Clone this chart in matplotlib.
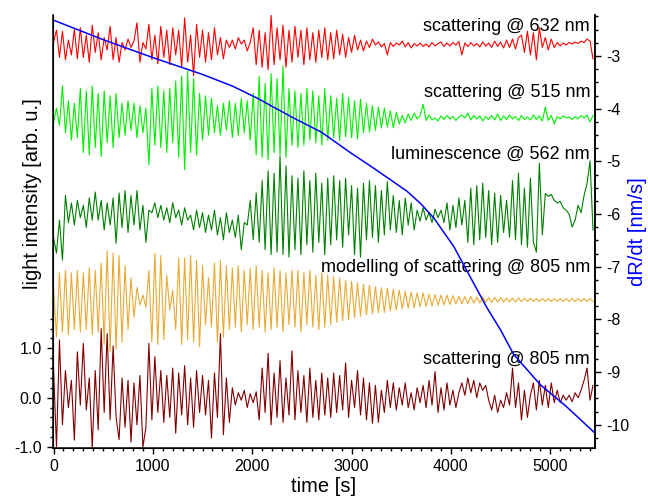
import numpy as np
import matplotlib.pyplot as plt
from matplotlib.ticker import MultipleLocator, FixedLocator, FormatStrFormatter

plt.rcParams['font.family'] = ['Liberation Sans', 'DejaVu Sans']
plt.rcParams['axes.unicode_minus'] = False

step = 30  # s between samples

# deviations of each trace around its own baseline (arb. u.)
sc632 = [0.05, 0.30, -0.25, 0.28, -0.30, 0.10, -0.20, 0.32, -0.28,
         0.35, -0.25, 0.20, -0.35, 0.40, -0.15, 0.25, -0.30, 0.15,
         -0.10, 0.38, -0.30, 0.15, -0.35,
         0.05, -0.10, 0.12, -0.05, 0.08,
         0.45, -0.35, 0.05, -0.08,
         0.42, -0.30, 0.20, -0.38, 0.38, -0.25, 0.30, -0.40, 0.35, -0.20, 0.30, -0.45, 0.55, -0.35, 0.20, -0.62,
         0.42, -0.25, 0.30, -0.35, 0.25, -0.30, 0.35, -0.20, 0.15, -0.28, 0.10,
         -0.05, 0.10, -0.08, 0.15, 0.02, 0.10, -0.12, 0.05,
         0.35, -0.40, 0.30, -0.45, 0.25, -0.50, 0.60, -0.40, 0.35, -0.30, 0.40, -0.45,
         0.30, -0.35, 0.38, -0.25, 0.30, -0.40, 0.35, -0.30, 0.25, -0.35, 0.30, -0.25,
         0.35, -0.30, 0.25, -0.28, 0.30, -0.20, 0.22, -0.25, 0.15, -0.15, 0.20, -0.10, 0.10, -0.12, 0.08,
         -0.05, 0.12, 0.00, 0.06, -0.04, 0.03, -0.20, 0.05, -0.03, 0.04, 0.00, 0.08, -0.04, 0.05, -0.06,
         0.03, -0.02, 0.04, -0.03, 0.02, -0.04, 0.05, -0.02, 0.03, 0.06, -0.03, 0.04, -0.02, 0.05, 0.00,
         0.07, -0.20, 0.04, -0.03, 0.05, -0.02, 0.03, -0.04, 0.06, -0.02, 0.04, -0.05, 0.08, -0.03, 0.06,
         -0.06, 0.10, -0.05, 0.12, -0.08, 0.15,
         0.20, -0.15, 0.28, -0.20, 0.25, -0.30, 0.35, -0.05, 0.15, -0.10, 0.12, -0.05,
         0.05, -0.02, 0.04, 0.00, 0.05, 0.02, 0.06, 0.03, 0.08, 0.05, 0.12, 0.08, -0.28]

sc515 = [-0.10, 0.20, -0.15, 0.65,
         -0.30, 0.35, -0.45, 0.30, -0.40,
         0.60, -0.70, 0.55, -0.75, 0.65, -0.60, 0.50, -0.78,
         0.55, -0.50, 0.45, -0.60, 0.50, -0.40,
         0.30, -0.35, 0.35, -0.25, 0.30, -0.40, 0.25, -0.30, 0.20,
         -0.95,
         0.60, -0.55, 0.65, -0.60, 0.55, -0.70, 0.60, -0.50,
         0.75, -0.80, 0.85, -1.05, 0.95, -0.70, 0.80, -0.75, 0.50,
         -0.45, 0.45, -0.35, 0.40, -0.30, 0.25, -0.35, 0.30, -0.25, 0.35, -0.40,
         0.30, -0.35, 0.40, -0.30, 0.35, -0.45, 0.50,
         -0.75, 0.85, -0.80, 0.70, -0.85, 0.90, -0.70, 0.80, -0.75, 1.05, -0.80,
         0.60, -0.55, 0.55, -0.60, 0.50, -0.55, 0.60, -0.45, 0.55, -0.50, 0.45, -0.55, 0.60, -0.45,
         0.45, -0.40, 0.40, -0.45, 0.50, -0.38, 0.42, -0.40, 0.35, -0.42, 0.38,
         -0.30, 0.30, -0.28, 0.25, -0.25, 0.22, -0.20, 0.20, -0.18, 0.15, -0.20, 0.12,
         -0.12, 0.05, -0.10, 0.08, -0.05, 0.10, -0.02, 0.05, 0.28,
         -0.05, 0.06, -0.04, 0.00, -0.06, 0.04, -0.03, 0.05, -0.02, 0.03, -0.05, 0.02, 0.06, 0.00, 0.10,
         -0.04, 0.05, -0.02, 0.04, -0.06, 0.03, -0.03, 0.05, -0.04, 0.08, -0.05, 0.04, -0.03, 0.06, -0.02,
         0.03, -0.05, 0.05, -0.03, 0.02, -0.04, 0.06, -0.03, 0.04, -0.06, 0.22, -0.05, 0.05, -0.12, 0.03,
         -0.02, 0.04, 0.00, 0.02, -0.03, 0.03, -0.02, 0.05, 0.00, 0.06, -0.08, 0.05]

lum562 = [-0.45, -0.77, -0.10, -0.91,
          0.40, -0.15, 0.25, -0.20,
          0.30, -0.05, 0.20, -0.25, 0.35, -0.10,
          0.47,
          -0.10, 0.30, -0.30, 0.25, -0.20, 0.35,
          -0.57,
          0.45, -0.25, 0.50, -0.35, 0.40, -0.20, 0.50, -0.30, 0.20, -0.55,
          0.10, 0.05, 0.25, -0.05, 0.20, -0.10, 0.15, -0.15, 0.25, -0.05, 0.10, -0.20, 0.15, -0.10, 0.00,
          -0.30, 0.10, -0.25, 0.05, -0.35, 0.00, -0.30, 0.10, -0.40, -0.05, -0.50, 0.05, -0.35, -0.10,
          -0.45, 0.00, -0.70, -0.15,
          -0.20, 0.30, -0.50, 0.45, -0.55,
          0.70, -0.70, 0.90, -0.80, 0.85, -0.75, 1.20, -0.80, 1.00, -0.85, 0.80, -0.70,
          0.75, -0.80, 0.90, -0.60, 0.70, -0.75, 0.85, -0.55, 0.65, -0.80, 0.75,
          -0.60, 0.80, -0.50, 0.70, -0.65, 0.75, -0.40, 0.60, -0.80, 0.55,
          -0.85, 0.65, -0.50, 0.70, -0.45, 0.60, -0.55, 0.50, -0.40, 0.68,
          -0.30, 0.40, -0.35, 0.30, -0.40, 0.35, -0.20, 0.25, -0.30,
          0.10, -0.12, 0.15, -0.10, 0.05, -0.15, 0.12, -0.05, 0.10, -0.15,
          0.25, -0.30, 0.20, -0.25, 0.35, -0.20, 0.30,
          -0.55, 0.55, -0.60, 0.60, -0.50, 0.65, -0.45, 0.50, -0.60, 0.45, -0.55, 0.40, -0.35, 0.30, -0.45,
          0.70, -0.50, 0.85, -0.60, 0.55, -0.65, 0.75, -0.55, -0.75, 1.05, -0.40,
          0.44, 0.38, 0.42, 0.30, 0.25, 0.28, 0.15, 0.10, 0.02,
          -0.24, -0.10, 0.20, 0.05, 0.40, 0.64, 1.10, -0.30]

model805 = [0.25, -0.75, 0.55, -0.65, 0.60, -0.70, 0.55, -0.60, 0.60, -0.65, 0.55, -0.60, 0.65, -0.70, 0.60, -0.65, 0.75,
            -0.90, 1.00, -1.05, 0.95, -1.00, 0.90, -0.85,
            0.70, -0.60, 0.45, -0.35, 0.25,
            -0.10, 0.10, -0.15,
            0.60, -0.85, 0.95, -0.90, 0.90, -0.80, 0.50,
            -0.20, 0.20,
            -0.60, 0.85, -0.90, 0.85, -0.80, 0.90, -0.85, 0.80, -0.95, 0.70,
            -0.50, 0.45, -0.55,
            0.75, -0.85, 0.80, -0.75, 0.70,
            -0.60, 0.65, -0.55, 0.70, -0.65, 0.60, -0.50, 0.65, -0.60, 0.70, -0.55, 0.60, -0.65, 0.55, -0.60, 0.65,
            -0.55, 0.60, -0.65, 0.55, -0.50, 0.60, -0.55, 0.60, -0.65, 0.55, -0.50, 0.60, -0.55, 0.50, -0.60,
            0.55, -0.55, 0.50, -0.50, 0.48, -0.45, 0.45, -0.42, 0.40, -0.40, 0.38,
            -0.36, 0.35, -0.33, 0.32, -0.30, 0.30, -0.28, 0.27, -0.26, 0.25, -0.25,
            0.24, -0.22, 0.22, -0.20, 0.20, -0.18, 0.18, -0.17, 0.16, -0.16, 0.15,
            -0.14, 0.14, -0.13, 0.12, -0.12, 0.11, -0.11, 0.10, -0.10, 0.10, -0.09,
            0.09, -0.08, 0.08, -0.08, 0.07, -0.07, 0.07, -0.06, 0.06, -0.06, 0.06,
            -0.05, 0.05, -0.05, 0.05, -0.04, 0.05, -0.04, 0.04, -0.04, 0.04, -0.04, 0.04,
            -0.03, 0.04, -0.03, 0.04, -0.03, 0.03, -0.03, 0.03, -0.03, 0.03, -0.03, 0.03,
            -0.03, 0.03, -0.03, 0.03, -0.03, 0.03, -0.03, 0.03, -0.03, 0.03, -0.03, 0.03, -0.03]

sc805 = [0.63, -1.00, 1.17,
         -0.55, 0.55, -0.20, 0.35, -0.86,
         0.93, -0.15, 1.10, -0.25, 0.40,
         -1.03,
         0.55, -0.65, 1.40, -0.30, 1.30, -0.45,
         1.05, -0.40, -0.85, 0.40, -0.60, 0.35, -0.90, 0.30, -0.55, 0.45, -1.00,
         -0.60, 1.10,
         -0.45, 0.83, -0.30, 0.55, -0.50, 0.45, -0.40, 0.60,
         -0.72, 0.50, -0.35, 0.65, -0.55, 0.40, -0.60, 0.55, -0.30,
         0.45, -0.35, 0.35, -0.82, 0.50, -0.40, 1.30, -0.75, 0.40, -0.50, 0.20,
         -0.15, 0.10, -0.05, 0.15, -0.20, 0.08, -0.10, 0.12,
         -0.45, 0.60, -0.30, 0.90, -0.55, 0.50, -0.40, 0.75, -0.50, 0.40, -0.35, 0.95,
         -0.45, 0.55, -0.30, 0.45, -0.50, 0.60, -0.40, 0.35, -0.45, 0.50, -0.35, 0.40,
         -0.40, 0.50, -0.30, 0.45, -0.25, 0.70, -0.40, 0.35, -0.20, 0.55, -0.35, 0.40, -0.45, 0.30, -0.52,
         0.25, -0.50, 0.15,
         -0.30, 0.35, -0.20, 0.30, -0.25, 0.20, -0.15, 0.30, -0.20, 0.10, -0.25, 0.20, -0.10,
         0.25, -0.20, 0.35, -0.15, 0.53, -0.30, 0.20, -0.25, 0.30, -0.15, 0.15, -0.20, 0.10,
         0.30, 0.05, 0.40, 0.10, 0.35, 0.00, 0.30, 0.15, 0.25, -0.05,
         -0.25, 0.05, -0.30, -0.05, -0.20, 0.10, -0.15,
         0.60,
         -0.20, 0.30, -0.45, 0.15, -0.40, 0.05,
         0.30, -0.25, 0.35, -0.15, 0.25, -0.20, 0.30, -0.10, 0.15,
         -0.10, 0.05, -0.05, 0.05, -0.08, 0.10, 0.00, 0.15,
         0.35, 0.60, -0.05, 0.25]

traces = [sc632, sc515, lum562, model805, sc805]
offsets = [7.15, 5.67, 3.70, 1.98, 0.0]
colors = ['#ff0000', '#00f000', '#008000', '#e9aa35', '#800000']
names = ['scattering @ 632 nm', 'scattering @ 515 nm', 'luminescence @ 562 nm',
         'modelling of scattering @ 805 nm', 'scattering @ 805 nm']
name_y = [0.973, 0.821, 0.679, 0.416, 0.205]

# growth rate (right axis)
t_dr = [0, 500, 1000, 1500, 1800, 2050, 2400, 2700, 3000, 3200, 3400, 3560, 3700,
        3830, 4030, 4130, 4360, 4500, 4630, 4900, 5160, 5440]
dr = [-2.32, -2.69, -3.03, -3.35, -3.57, -3.80, -4.16, -4.45, -4.85, -5.10, -5.36, -5.57, -5.81,
      -6.08, -6.62, -6.97, -7.77, -8.20, -8.66, -9.24, -9.65, -10.14]

fig = plt.figure(figsize=(6.48, 4.97), dpi=100)
ax = fig.add_axes([0.0818, 0.0986, 0.8364, 0.8714])

for vals, off, c in zip(traces, offsets, colors):
    t = np.arange(len(vals)) * step
    ax.plot(t, np.array(vals) + off, color=c, lw=0.8)

for name, yy in zip(names, name_y):
    ax.text(0.991, yy, name, transform=ax.transAxes, ha='right', va='center', fontsize=13)

ax.set_xlim(-5, 5450)
ax.set_ylim(-1.02, 7.76)
ax.set_yticks([-1.0, 0.0, 1.0])
ax.yaxis.set_major_formatter(FormatStrFormatter('%.1f'))
ax.yaxis.set_minor_locator(FixedLocator([-0.8, -0.6, -0.4, -0.2, 0.2, 0.4, 0.6, 0.8, 1.2, 1.4, 1.6]))
ax.xaxis.set_major_locator(MultipleLocator(1000))
ax.xaxis.set_minor_locator(MultipleLocator(100))
ax.set_xlabel('time [s]', fontsize=14.5, labelpad=2)
ax.set_ylabel('light intensity [arb. u.]', fontsize=14.5)
ax.yaxis.set_label_coords(-0.020, 0.587)
ax.spines['top'].set_visible(False)
ax.tick_params(which='major', direction='out', length=4.5, width=1.0, labelsize=11.5)
ax.tick_params(which='minor', direction='out', length=2.5, width=1.0)
for s in ['left', 'bottom', 'right']:
    ax.spines[s].set_linewidth(1.1)

ax2 = ax.twinx()
ax2.plot(t_dr, dr, color='#0000ff', lw=1.1)
ax2.set_ylim(-10.44, -2.22)
ax2.yaxis.set_major_locator(MultipleLocator(1))
ax2.yaxis.set_minor_locator(MultipleLocator(0.25))
ax2.set_ylabel('dR/dt [nm/s]', color='#0000ff', fontsize=14.5)
ax2.yaxis.set_label_coords(1.060, 0.5)
ax2.spines['top'].set_visible(False)
ax2.spines['right'].set_linewidth(1.1)
ax2.tick_params(which='major', direction='out', length=4.5, width=1.0, labelsize=11.5)
ax2.tick_params(which='minor', direction='out', length=2.5, width=1.0)

fig.savefig('out.png', dpi=100)
